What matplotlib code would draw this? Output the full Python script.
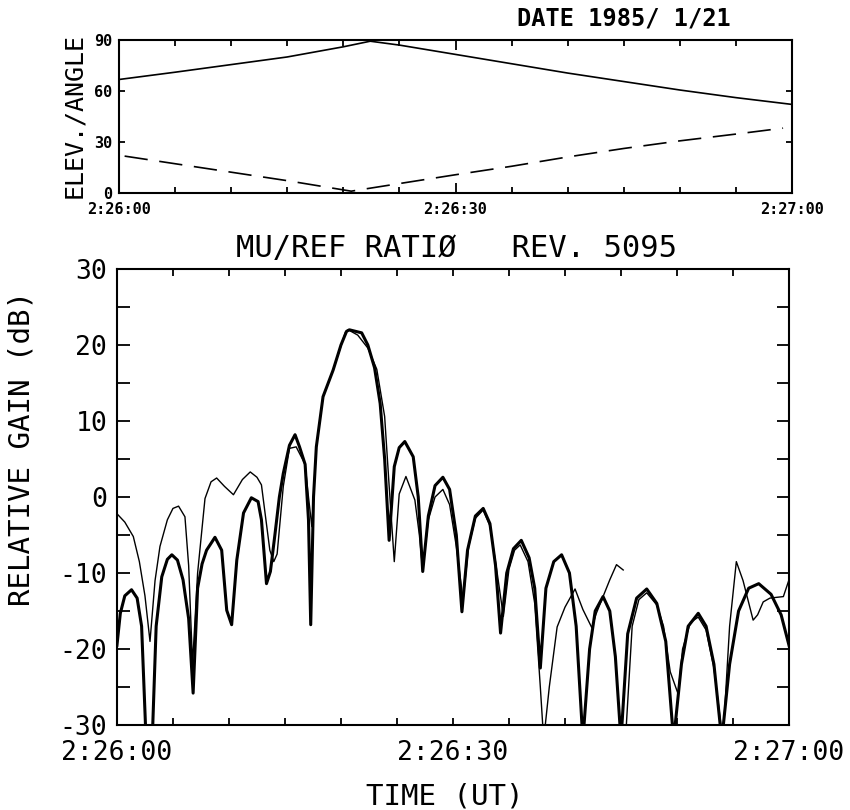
import numpy as np
import matplotlib
matplotlib.use('Agg')
import matplotlib.pyplot as plt
from matplotlib.ticker import MultipleLocator, FixedLocator

plt.rcParams['font.family'] = 'DejaVu Sans Mono'

# seconds after 2:26:00 UT
# --- upper panel: elevation / angle (deg)
elev_t = [0, 5, 10, 15, 20, 22.4, 25, 30, 35, 40, 45, 50, 55, 60]
elev_solid = [66.7, 71, 75.5, 80, 86, 89.3, 87, 81.5, 76, 70.5, 65.5, 60.5, 56, 52]
angle_t = [0.5, 5, 10, 15, 20.7, 25, 30, 35, 40, 45, 50, 55, 59.2]
angle_dash = [21.5, 17, 12, 7, 0.8, 5.3, 10.5, 15.5, 21, 26, 30.5, 34.5, 38]

# --- lower panel: MU/REF ratio (dB)
thick_t = [0.0, 0.3, 0.7, 1.3, 1.8, 2.2, 2.6, 3.15, 3.5, 4.0, 4.5, 4.9, 5.4, 5.9,
           6.4, 6.8, 7.2, 7.6, 8.0, 8.75, 9.35, 9.8, 10.24, 10.7, 11.3, 12.0, 12.6,
           12.9, 13.35, 13.7, 14.1, 14.5, 14.85, 15.4, 15.9, 16.3, 16.8, 17.1, 17.3,
           17.55, 17.8, 18.4, 19.3, 20.0, 20.5, 20.75, 21.85, 22.4, 23.0, 23.5, 23.9,
           24.3, 24.76, 25.2, 25.7, 26.45, 26.9, 27.3, 27.8, 28.4, 29.1, 29.7, 30.3,
           30.8, 31.3, 32.0, 32.7, 33.3, 33.8, 34.25, 34.8, 35.4, 36.1, 36.8, 37.3,
           37.8, 38.3, 39.0, 39.7, 40.4, 41.0, 41.6, 42.2, 42.7, 43.4, 44.0, 44.5,
           45.0, 45.6, 46.4, 47.3, 48.2, 49.0, 49.7, 50.4, 51.0, 51.9, 52.6, 53.3,
           54.0, 54.7, 55.5, 56.4, 57.3, 58.4, 59.3, 60.0]
thick_db = [-19.5, -15.3, -13, -12.2, -13.3, -17, -32, -32, -17, -10.5, -8.2, -7.6, -8.3, -10.9,
            -16, -25.8, -12, -8.8, -7.0, -5.3, -7.0, -14.9, -16.8, -8.3, -2.1, -0.1, -0.6,
            -3, -11.4, -9.8, -5, 0, 3.1, 6.8, 8.2, 6.6, 4.3, -3, -16.8,
            0, 6.6, 13.2, 16.7, 20, 21.8, 22.0, 21.6, 20.0, 17.0, 12.3, 5.0,
            -5.7, 4.0, 6.5, 7.3, 5.3, 0, -9.8, -2.5, 1.5, 2.6, 1.0, -5,
            -15.1, -7, -2.5, -1.5, -3.5, -9, -17.9, -10, -6.8, -5.7, -8, -12,
            -22.5, -12, -8.5, -7.6, -10, -17, -32, -20, -15, -13.1, -15, -21,
            -32, -18, -13.3, -12.1, -14, -19, -32, -22, -17, -15.3, -17, -22,
            -32, -22, -15, -12, -11.4, -12.8, -15.5, -19.5]

thin_t = [0.0, 0.7, 1.46, 2.0, 2.5, 2.95, 3.4, 3.84, 4.5, 5.0, 5.5, 6.07, 6.4, 6.75,
          7.2, 7.86, 8.4, 8.9, 9.6, 10.4, 11.2, 11.9, 12.5, 12.9, 13.3, 13.65, 14.0,
          14.3, 14.85, 15.4, 16.0, 16.8, 17.1, 17.4, 17.8, 18.4, 19.3, 20.4, 20.65,
          21.5, 22.4, 23.2, 23.9, 24.3, 24.76, 25.2, 25.8, 26.6, 27.0, 27.3, 27.8,
          28.4, 29.1, 29.7, 30.3, 30.9, 31.4, 32.0, 32.7, 33.3, 33.9, 34.5, 35.0,
          35.5, 36.0, 36.7, 37.3, 37.8, 38.1, 38.6, 39.3, 40.0, 40.9, 41.6, 42.4,
          42.8, 44.0, 44.6, 45.2, np.nan, 45.4, 46.0, 46.6, 47.3, 48.2, 48.8, 49.4,
          50.1, 50.5, 51.2, 51.9, 52.6, 53.3, 54.1, 54.7, 55.3, 55.9, 56.8, 57.2,
          57.7, 58.3, 59.5, 60.0]
thin_db = [-2.2, -3.3, -5.2, -8.5, -13, -19, -11, -6.5, -3, -1.5, -1.2, -2.6, -9, -22,
           -10, -0.2, 2.0, 2.5, 1.4, 0.3, 2.3, 3.3, 2.6, 1.6, -3, -7.0, -8.5,
           -7.5, 1.4, 6.4, 6.6, 4.3, 0, -3.9, 6.6, 13.2, 16.7, 21.7, 22.0,
           21.3, 19.6, 16.8, 10.6, 1.5, -8.5, 0.4, 2.7, -0.4, -5, -9.6, -3,
           0, 1.0, -1, -6.5, -13.5, -6.5, -2.8, -1.7, -3.8, -9.5, -15.7, -9.5,
           -7, -6.3, -8.5, -14, -25, -32, -25, -17.1, -14.5, -12.1, -14.8, -17.2,
           -15.3, -10.9, -8.9, -9.6, np.nan, -32, -17, -13.5, -12.6, -14.2, -17, -23,
           -25.9, -20, -16.5, -15.8, -17.5, -22.5, -32, -17, -8.5, -11, -16.2, -15.5,
           -13.8, -13.3, -13.1, -10.9]

time_labels = ['2:26:00', '2:26:30', '2:27:00']

fig = plt.figure(figsize=(8.5, 8.1), dpi=100)

# upper panel
ax1 = fig.add_axes([0.140, 0.7623, 0.7918, 0.1883])
ax1.plot(elev_t, elev_solid, color='black', lw=1.2)
ax1.plot(angle_t, angle_dash, color='black', lw=1.2, linestyle=(0, (14, 7)))
ax1.set_xlim(0, 60)
ax1.set_ylim(0, 90)
ax1.xaxis.set_major_locator(FixedLocator([0, 30, 60]))
ax1.xaxis.set_minor_locator(MultipleLocator(5))
ax1.set_xticklabels(time_labels, fontsize=11, fontweight='bold')
ax1.set_yticks([0, 30, 60, 90])
ax1.set_yticklabels(['0', '30', '60', '90'], fontsize=11, fontweight='bold')
ax1.tick_params(axis='x', which='major', direction='in', top=True, length=7, width=1.3, pad=7)
ax1.tick_params(axis='x', which='minor', direction='in', top=True, length=4, width=1.3)
ax1.tick_params(axis='y', direction='in', right=True, length=4, width=1.3, pad=5)
for s in ax1.spines.values():
    s.set_linewidth(1.5)

# lower panel
ax2 = fig.add_axes([0.1376, 0.1049, 0.7906, 0.5630])
ax2.plot(thin_t, thin_db, color='black', lw=1.0)
ax2.plot(thick_t, thick_db, color='black', lw=2.2)
ax2.set_xlim(0, 60)
ax2.set_ylim(-30, 30)
ax2.xaxis.set_major_locator(FixedLocator([0, 30, 60]))
ax2.xaxis.set_minor_locator(MultipleLocator(5))
ax2.set_xticklabels(time_labels, fontsize=19)
ax2.yaxis.set_minor_locator(MultipleLocator(5))
ax2.set_yticks(range(-30, 31, 10))
ax2.set_yticklabels([str(v) for v in range(-30, 31, 10)], fontsize=19)
ax2.tick_params(axis='x', which='both', direction='in', top=True, length=5, width=1.3, pad=11)
ax2.tick_params(axis='y', which='both', direction='in', right=True, length=9, width=1.3, pad=7)
for s in ax2.spines.values():
    s.set_linewidth(1.5)

fig.text(517 / 850, 1 - 18 / 810, 'DATE 1985/ 1/21', fontsize=17, fontweight='bold',
         ha='left', va='center')
fig.text(74 / 850, 1 - 115 / 810, 'ELEV./ANGLE', fontsize=18, rotation=90,
         ha='center', va='center')
fig.text(456 / 850, 1 - 248 / 810, 'MU/REF RATIØ   REV. 5095', fontsize=22,
         ha='center', va='center')
fig.text(22 / 850, 1 - 449 / 810, 'RELATIVE GAIN (dB)', fontsize=21, rotation=90,
         ha='center', va='center')
fig.text(445 / 850, 1 - 796 / 810, 'TIME (UT)', fontsize=21, ha='center', va='center')

fig.savefig('out.png', dpi=100)
